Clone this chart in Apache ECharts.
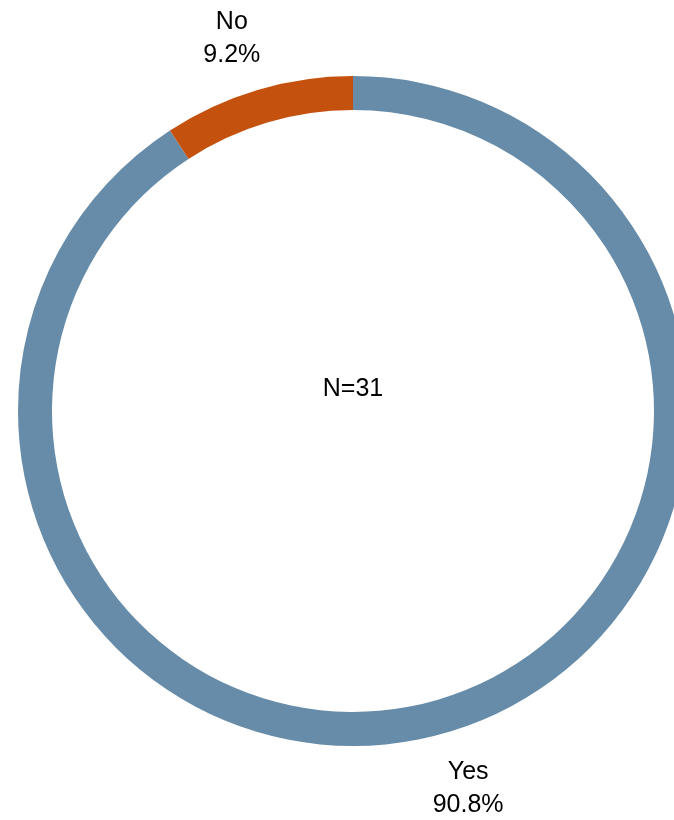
<!DOCTYPE html>
<html>
<head>
<meta charset="utf-8">
<script src="https://cdn.jsdelivr.net/npm/echarts@6/dist/echarts.min.js"></script>
<style>
html, body { margin: 0; padding: 0; background: #fff; }
#main { width: 674px; height: 820px; }
</style>
</head>
<body>
<div id="main"></div>
<script>
var categories = ['Yes', 'No'];
var shares = [90.8, 9.2];
var colors = ['#668CA9', '#C4520E'];
var totalN = 31;

// small nudges so the labels sit where the original put them
var labelNudge = [[2, -3], [-8, 8]];

var pieData = categories.map(function (name, i) {
    return { name: name, value: shares[i], itemStyle: { color: colors[i] } };
});

var myChart = echarts.init(document.getElementById('main'));
var option = {
    backgroundColor: '#fff',
    animation: false,
    textStyle: { fontFamily: 'Liberation Sans, Arial, sans-serif' },
    graphic: [{
        type: 'text',
        x: 353,
        y: 389,
        style: {
            text: 'N=' + totalN,
            fontSize: 25,
            fontFamily: 'Liberation Sans, Arial, sans-serif',
            fill: '#000',
            align: 'center',
            verticalAlign: 'middle'
        }
    }],
    series: [{
        type: 'pie',
        center: [353, 411],
        radius: [301, 335],
        startAngle: 90,
        clockwise: true,
        silent: true,
        label: { show: false },
        labelLine: { show: false },
        data: pieData
    }, {
        // transparent ring used only to place the labels
        type: 'pie',
        center: [353, 411],
        radius: [384, 404],
        startAngle: 90,
        clockwise: true,
        silent: true,
        itemStyle: { color: 'rgba(0,0,0,0)' },
        label: {
            show: true,
            position: 'inside',
            color: '#000',
            fontSize: 25,
            lineHeight: 33,
            fontFamily: 'Liberation Sans, Arial, sans-serif',
            formatter: function (p) {
                return p.name + '\n' + p.value.toFixed(1) + '%';
            }
        },
        labelLine: { show: false },
        data: categories.map(function (name, i) {
            return { name: name, value: shares[i], label: { offset: labelNudge[i] } };
        })
    }]
};
myChart.setOption(option);
</script>
</body>
</html>
